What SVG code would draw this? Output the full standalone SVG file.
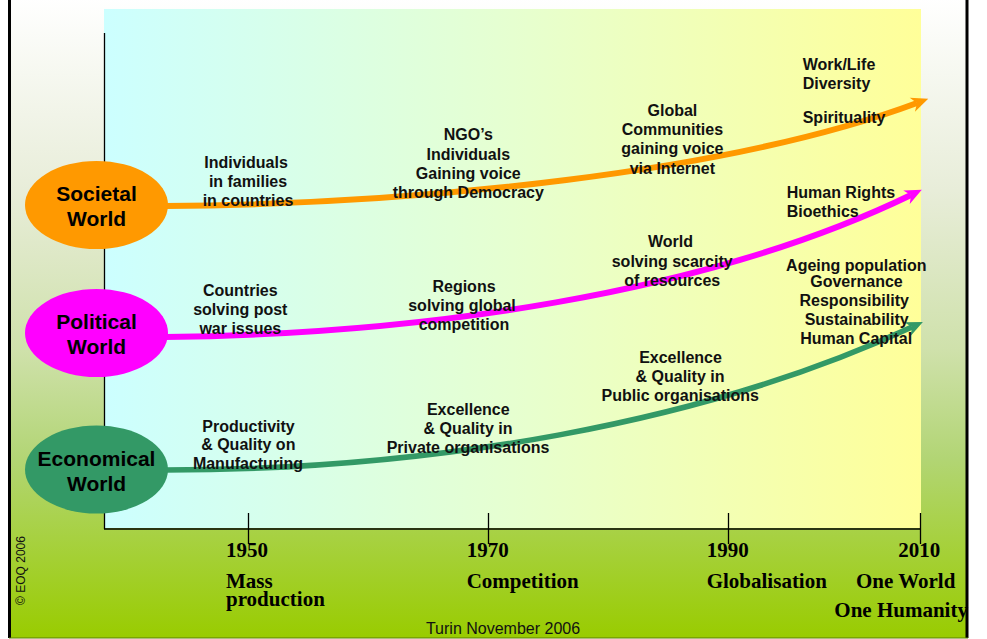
<svg xmlns="http://www.w3.org/2000/svg" width="987" height="639" viewBox="0 0 987 639">
<defs>
<linearGradient id="bg" x1="0" y1="0" x2="0" y2="1">
<stop offset="0" stop-color="#ffffff"/>
<stop offset="0.3" stop-color="#e8edd9"/>
<stop offset="0.55" stop-color="#cfe1ab"/>
<stop offset="0.72" stop-color="#b2d574"/>
<stop offset="1" stop-color="#99cc00"/>
</linearGradient>
<linearGradient id="panel" x1="0" y1="0" x2="1" y2="0">
<stop offset="0" stop-color="#ccffff"/>
<stop offset="0.5" stop-color="#e6ffd0"/>
<stop offset="1" stop-color="#ffff99"/>
</linearGradient>
<marker id="hOrange" markerUnits="userSpaceOnUse" markerWidth="20" markerHeight="18" refX="5" refY="8" orient="auto" overflow="visible">
<path d="M17,8 L0,0.5 L5,8 L0,15.5 Z" fill="#ff9900"/>
</marker>
<marker id="hMagenta" markerUnits="userSpaceOnUse" markerWidth="20" markerHeight="18" refX="5" refY="8" orient="auto" overflow="visible">
<path d="M17,8 L0,0.5 L5,8 L0,15.5 Z" fill="#ff00ff"/>
</marker>
<marker id="hGreen" markerUnits="userSpaceOnUse" markerWidth="20" markerHeight="18" refX="5" refY="8" orient="auto" overflow="visible">
<path d="M17,8 L0,0.5 L5,8 L0,15.5 Z" fill="#339966"/>
</marker>
</defs>
<style>
.lbl{font-family:"Liberation Sans",Arial,sans-serif;font-weight:bold;font-size:16px;fill:#111;}
.mid{text-anchor:middle;}
.node{font-family:"Liberation Sans",Arial,sans-serif;font-weight:bold;font-size:21px;fill:#000;text-anchor:middle;}
.axis{font-family:"Liberation Serif","Times New Roman",serif;font-weight:bold;font-size:21px;fill:#000;}
.conn{fill:none;}
.ax{stroke:#000;stroke-width:1.3;}
</style>
<rect x="0" y="0" width="987" height="639" fill="#ffffff"/>
<rect x="9" y="-2" width="958" height="640" fill="url(#bg)"/>
<line x1="9.5" y1="0" x2="9.5" y2="638" stroke="#000" stroke-width="3"/>
<line x1="967" y1="0" x2="967" y2="638" stroke="#000" stroke-width="3"/>
<line x1="9" y1="638" x2="968" y2="638" stroke="#5f7f00" stroke-width="1"/>
<rect x="104" y="9" width="817" height="519" fill="url(#panel)"/>
<g id="axes">
<line class="ax" x1="104.5" y1="33" x2="104.5" y2="529"/>
<line class="ax" x1="104" y1="529" x2="921" y2="529"/>
<line class="ax" x1="248.5" y1="513" x2="248.5" y2="544"/>
<line class="ax" x1="488.5" y1="513" x2="488.5" y2="544"/>
<line class="ax" x1="728.5" y1="513" x2="728.5" y2="544"/>
<line class="ax" x1="920.5" y1="513" x2="920.5" y2="544"/>
</g>
<g id="connectors">
<path class="conn" d="M165,206 C420,204 729,173 917,103" stroke="#ff9900" stroke-width="6" marker-end="url(#hOrange)"/>
<path class="conn" d="M165,337 C420,334 704,295 911,195" stroke="#ff00ff" stroke-width="6" marker-end="url(#hMagenta)"/>
<path class="conn" d="M165,470 C430,470 703,424 912,327" stroke="#339966" stroke-width="5.5" marker-end="url(#hGreen)"/>
</g>
<g id="societal">
<ellipse cx="96.5" cy="205" rx="71.5" ry="44" fill="#ff9900"/>
<text class="node" x="96.5" y="201">Societal</text>
<text class="node" x="96.5" y="226">World</text>
</g>
<g id="political">
<ellipse cx="96.5" cy="333" rx="71.5" ry="44" fill="#ff00ff"/>
<text class="node" x="96.5" y="329">Political</text>
<text class="node" x="96.5" y="354">World</text>
</g>
<g id="economical">
<ellipse cx="96.5" cy="469.5" rx="71.5" ry="44" fill="#339966"/>
<text class="node" x="96.5" y="465.5">Economical</text>
<text class="node" x="96.5" y="490.5">World</text>
</g>
<g id="soc1950" class="lbl mid">
<text x="246" y="167.5">Individuals</text>
<text x="248" y="186.5">in families</text>
<text x="248" y="205.5">in countries</text>
</g>
<g id="soc1970" class="lbl mid">
<text x="468.3" y="140">NGO’s</text>
<text x="468.3" y="159.5">Individuals</text>
<text x="468.3" y="178.5">Gaining voice</text>
<text x="468.3" y="197.5">through Democracy</text>
</g>
<g id="soc1990" class="lbl mid">
<text x="672.4" y="115.5">Global</text>
<text x="672.4" y="134.5">Communities</text>
<text x="672.4" y="154">gaining voice</text>
<text x="672.4" y="173.5">via Internet</text>
</g>
<g id="soc2010" class="lbl">
<text x="802.7" y="70">Work/Life</text>
<text x="802.7" y="89">Diversity</text>
<text x="802.7" y="123">Spirituality</text>
</g>
<g id="pol1950" class="lbl mid">
<text x="240.3" y="296">Countries</text>
<text x="240.3" y="315.3">solving post</text>
<text x="240.3" y="334.3">war issues</text>
</g>
<g id="pol1970" class="lbl mid">
<text x="464" y="291.7">Regions</text>
<text x="462" y="310.7">solving global</text>
<text x="464" y="330">competition</text>
</g>
<g id="pol1990" class="lbl mid">
<text x="670.5" y="247.3">World</text>
<text x="672.2" y="266.5">solving scarcity</text>
<text x="672.2" y="285.5">of resources</text>
</g>
<g id="pol2010" class="lbl">
<text x="786.7" y="197.7">Human Rights</text>
<text x="786.7" y="216.7">Bioethics</text>
</g>
<g id="eco2010" class="lbl mid">
<text x="856.3" y="270.7">Ageing population</text>
<text x="856.5" y="286.7">Governance</text>
<text x="854.2" y="306">Responsibility</text>
<text x="856.7" y="325">Sustainability</text>
<text x="856.2" y="344">Human Capital</text>
</g>
<g id="eco1950" class="lbl mid">
<text x="248.5" y="431.5">Productivity</text>
<text x="248.3" y="450.3">&amp; Quality on</text>
<text x="248" y="469.3">Manufacturing</text>
</g>
<g id="eco1970" class="lbl mid">
<text x="468.3" y="415">Excellence</text>
<text x="468" y="434">&amp; Quality in</text>
<text x="468" y="453">Private organisations</text>
</g>
<g id="eco1990" class="lbl mid">
<text x="680.5" y="362.7">Excellence</text>
<text x="680" y="381.7">&amp; Quality in</text>
<text x="680.3" y="401">Public organisations</text>
</g>
<g id="timeline" class="axis">
<text x="226" y="556.7">1950</text>
<text x="226" y="587.5">Mass</text>
<text x="226" y="606">production</text>
<text x="466.7" y="556.7">1970</text>
<text x="466.7" y="587.7">Competition</text>
<text x="706.7" y="556.7">1990</text>
<text x="706.7" y="587.7">Globalisation</text>
<text x="898.3" y="556.7">2010</text>
<text x="856" y="587.7">One World</text>
<text x="834.3" y="617.3">One Humanity</text>
</g>
<text x="503" y="634" font-family="Liberation Sans, Arial, sans-serif" font-size="16" fill="#111" text-anchor="middle">Turin November 2006</text>
<text transform="translate(25,570.5) rotate(-90)" font-family="Liberation Sans, Arial, sans-serif" font-size="12" fill="#111" text-anchor="middle">© EOQ 2006</text>
</svg>
